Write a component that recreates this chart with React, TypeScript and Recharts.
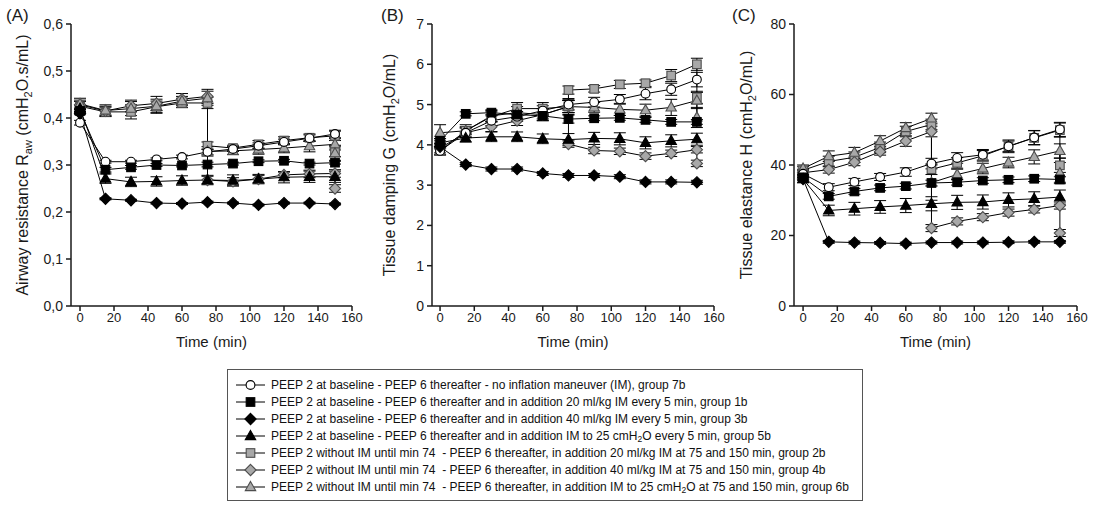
import React from "react";
import { ErrorBar, Line, LineChart, XAxis, YAxis } from "recharts";

// Sampling times (min). Groups 2b/4b/6b have two readings at 75 and 150 (before / after IM).
const TIME = [0, 15, 30, 45, 60, 75, 90, 105, 120, 135, 150];
const TIME_IM = [0, 15, 30, 45, 60, 75, 75, 90, 105, 120, 135, 150, 150];
const X_TICKS = [0, 20, 40, 60, 80, 100, 120, 140, 160];

// (A) Airway resistance Raw
const RAW_TICKS = [0, 0.1, 0.2, 0.3, 0.4, 0.5, 0.6];
const RAW_7B = [0.39, 0.307, 0.307, 0.312, 0.317, 0.328, 0.334, 0.341, 0.349, 0.357, 0.366];
const RAW_1B = [0.415, 0.29, 0.295, 0.3, 0.299, 0.301, 0.303, 0.308, 0.309, 0.303, 0.305];
const RAW_3B = [0.41, 0.228, 0.225, 0.219, 0.218, 0.221, 0.219, 0.215, 0.219, 0.219, 0.217];
const RAW_5B = [0.42, 0.271, 0.264, 0.265, 0.267, 0.268, 0.267, 0.27, 0.274, 0.275, 0.275];
const RAW_2B = [0.425, 0.413, 0.413, 0.424, 0.432, 0.432, 0.341, 0.336, 0.344, 0.352, 0.358, 0.362, 0.33];
const RAW_4B = [0.428, 0.415, 0.426, 0.431, 0.44, 0.446, 0.268, 0.265, 0.27, 0.279, 0.281, 0.282, 0.25];
const RAW_6B = [0.43, 0.416, 0.42, 0.425, 0.436, 0.442, 0.329, 0.33, 0.333, 0.336, 0.34, 0.344, 0.325];
const RAW_7B_SEM = [0.005, 0.003, 0.003, 0.003, 0.004, 0.006, 0.005, 0.006, 0.006, 0.007, 0.008];
const RAW_1B_SEM = [0.005, 0.005, 0.004, 0.003, 0.003, 0.005, 0.003, 0.003, 0.003, 0.003, 0.003];
const RAW_3B_SEM = [0.003, 0.002, 0.002, 0.002, 0.002, 0.002, 0.002, 0.002, 0.002, 0.002, 0.002];
const RAW_5B_SEM = [0.006, 0.01, 0.01, 0.01, 0.01, 0.01, 0.012, 0.01, 0.012, 0.012, 0.012];
const RAW_2B_SEM = [0.01, 0.01, 0.015, 0.012, 0.01, 0.012, 0.008, 0.006, 0.008, 0.008, 0.008, 0.01, 0.012];
const RAW_4B_SEM = [0.01, 0.01, 0.012, 0.015, 0.012, 0.015, 0.008, 0.008, 0.008, 0.006, 0.008, 0.008, 0.008];
const RAW_6B_SEM = [0.012, 0.012, 0.015, 0.015, 0.01, 0.015, 0.01, 0.008, 0.01, 0.01, 0.012, 0.012, 0.015];

// (B) Tissue damping G
const G_TICKS = [0, 1, 2, 3, 4, 5, 6, 7];
const G_7B = [3.85, 4.3, 4.6, 4.7, 4.85, 5.0, 5.06, 5.13, 5.27, 5.38, 5.62];
const G_1B = [4.1, 4.77, 4.8, 4.75, 4.72, 4.64, 4.66, 4.67, 4.62, 4.57, 4.57];
const G_3B = [3.95, 3.51, 3.4, 3.4, 3.29, 3.24, 3.24, 3.21, 3.08, 3.08, 3.07];
const G_5B = [4.05, 4.17, 4.2, 4.2, 4.15, 4.13, 4.16, 4.15, 4.05, 4.1, 4.14];
const G_2B = [3.85, 4.35, 4.7, 4.9, 4.9, 4.95, 5.36, 5.39, 5.5, 5.53, 5.72, 6.0, 5.18];
const G_4B = [3.92, 4.3, 4.45, 4.6, 4.75, 4.95, 4.02, 3.86, 3.84, 3.72, 3.79, 3.88, 3.54];
const G_6B = [4.3, 4.35, 4.72, 4.8, 4.75, 4.95, 4.95, 4.93, 4.88, 4.86, 4.93, 5.1, 4.68];
const G_7B_SEM = [0.1, 0.12, 0.12, 0.12, 0.12, 0.12, 0.12, 0.12, 0.15, 0.15, 0.18];
const G_1B_SEM = [0.06, 0.05, 0.05, 0.08, 0.08, 0.1, 0.06, 0.06, 0.06, 0.06, 0.06];
const G_3B_SEM = [0.05, 0.05, 0.05, 0.05, 0.05, 0.05, 0.05, 0.05, 0.05, 0.05, 0.05];
const G_5B_SEM = [0.1, 0.1, 0.12, 0.12, 0.12, 0.15, 0.15, 0.15, 0.15, 0.15, 0.15];
const G_2B_SEM = [0.1, 0.1, 0.12, 0.15, 0.15, 0.15, 0.1, 0.08, 0.1, 0.08, 0.15, 0.15, 0.15];
const G_4B_SEM = [0.12, 0.12, 0.12, 0.12, 0.15, 0.15, 0.08, 0.08, 0.08, 0.08, 0.08, 0.08, 0.08];
const G_6B_SEM = [0.2, 0.15, 0.15, 0.15, 0.15, 0.2, 0.15, 0.12, 0.15, 0.15, 0.2, 0.2, 0.25];

// (C) Tissue elastance H
const H_TICKS = [0, 20, 40, 60, 80];
const H_7B = [37.5, 33.7, 35.2, 36.6, 38.0, 40.4, 42.0, 42.9, 45.3, 47.8, 50.1];
const H_1B = [36.5, 31.1, 32.5, 33.5, 34.0, 34.9, 35.1, 35.6, 35.8, 36.1, 35.9];
const H_3B = [36, 18.2, 18, 17.9, 17.7, 18, 18, 18, 18.1, 18.2, 18.2];
const H_5B = [36, 27.1, 27.6, 28.1, 28.5, 29.0, 29.4, 29.5, 30.1, 30.4, 30.9];
const H_2B = [38.5, 41.0, 42.2, 45.0, 49.5, 51.5, 38.8, 40.6, 42.6, 45.3, 47.7, 49.9, 39.9];
const H_4B = [37.8, 38.7, 40.8, 43.8, 46.8, 49.5, 22.1, 24.0, 25.2, 26.5, 27.4, 28.5, 20.7];
const H_6B = [39, 42.5, 43.5, 46.8, 50.5, 53.2, 35.0, 37.3, 39.0, 40.7, 42.3, 44.0, 37.7];
const H_7B_SEM = [1, 1, 1, 1, 1.2, 1.5, 1.5, 1.5, 1.8, 2, 2];
const H_1B_SEM = [0.8, 0.8, 0.8, 0.8, 0.8, 0.8, 0.8, 0.8, 0.8, 0.8, 0.8];
const H_3B_SEM = [0.5, 0.4, 0.4, 0.4, 0.4, 0.4, 0.4, 0.4, 0.4, 0.4, 0.4];
const H_5B_SEM = [1, 1.5, 1.8, 1.8, 2, 2, 2, 2, 2, 2, 2];
const H_2B_SEM = [1, 1.5, 1.5, 1.5, 1.5, 1.5, 1.5, 1.5, 1.5, 1.5, 2, 2, 2];
const H_4B_SEM = [1, 1, 1, 1, 1.5, 1.5, 1, 1, 1, 1, 1, 1, 1];
const H_6B_SEM = [1, 1.5, 1.5, 1.5, 1.5, 1.5, 5, 1.5, 1.5, 1.5, 2, 2, 3];

const INK = "#1a1a1a";
const GREY = "#a8a8a8";
const GREY_EDGE = "#4d4d4d";
const FONT = '"Liberation Sans", Arial, sans-serif';

type Shape = "circle" | "square" | "diamond" | "triangle";

interface Group {
  id: string;
  shape: Shape;
  fill: string;
  edge: string;
  late: boolean; // IM only at 75 and 150 min
  legend: (string | { sub: string })[];
}

const GROUPS: Group[] = [
  { id: "7b", shape: "circle", fill: "#ffffff", edge: "#000", late: false,
    legend: ["PEEP 2 at baseline - PEEP 6 thereafter - no inflation maneuver (IM), group 7b"] },
  { id: "1b", shape: "square", fill: "#000", edge: "#000", late: false,
    legend: ["PEEP 2 at baseline - PEEP 6 thereafter and in addition 20 ml/kg IM every 5 min, group 1b"] },
  { id: "3b", shape: "diamond", fill: "#000", edge: "#000", late: false,
    legend: ["PEEP 2 at baseline - PEEP 6 thereafter and in addition 40 ml/kg IM every 5 min, group 3b"] },
  { id: "5b", shape: "triangle", fill: "#000", edge: "#000", late: false,
    legend: ["PEEP 2 at baseline - PEEP 6 thereafter and in addition IM to 25 cmH", { sub: "2" }, "O every 5 min, group 5b"] },
  { id: "2b", shape: "square", fill: GREY, edge: GREY_EDGE, late: true,
    legend: ["PEEP 2 without IM until min 74  - PEEP 6 thereafter, in addition 20 ml/kg IM at 75 and 150 min, group 2b"] },
  { id: "4b", shape: "diamond", fill: GREY, edge: GREY_EDGE, late: true,
    legend: ["PEEP 2 without IM until min 74  - PEEP 6 thereafter, in addition 40 ml/kg IM at 75 and 150 min, group 4b"] },
  { id: "6b", shape: "triangle", fill: GREY, edge: GREY_EDGE, late: true,
    legend: ["PEEP 2 without IM until min 74  - PEEP 6 thereafter, in addition IM to 25 cmH", { sub: "2" }, "O at 75 and 150 min, group 6b"] },
];

// draw grey groups first so the black ones sit on top
const DRAW_ORDER = ["2b", "4b", "6b", "7b", "1b", "5b", "3b"];

interface Panel {
  letter: string;
  left: number;
  width: number;
  marginRight: number;
  xMin: number;
  yTicks: number[];
  decimals: number;
  titleX: number;
  letterX: number;
  title: (string | { sub: string })[];
  values: Record<string, number[]>;
  sems: Record<string, number[]>;
}

const PANELS: Panel[] = [
  {
    letter: "(A)", left: 0, width: 370, marginRight: 18, xMin: -5.3, yTicks: RAW_TICKS, decimals: 1,
    titleX: 28, letterX: 6,
    title: ["Airway resistance R", { sub: "aw" }, " (cmH", { sub: "2" }, "O.s/mL)"],
    values: { "7b": RAW_7B, "1b": RAW_1B, "3b": RAW_3B, "5b": RAW_5B, "2b": RAW_2B, "4b": RAW_4B, "6b": RAW_6B },
    sems: { "7b": RAW_7B_SEM, "1b": RAW_1B_SEM, "3b": RAW_3B_SEM, "5b": RAW_5B_SEM, "2b": RAW_2B_SEM, "4b": RAW_4B_SEM, "6b": RAW_6B_SEM },
  },
  {
    letter: "(B)", left: 361, width: 371, marginRight: 18, xMin: -4.7, yTicks: G_TICKS, decimals: 0,
    titleX: 34, letterX: 20,
    title: ["Tissue damping G (cmH", { sub: "2" }, "O/mL)"],
    values: { "7b": G_7B, "1b": G_1B, "3b": G_3B, "5b": G_5B, "2b": G_2B, "4b": G_4B, "6b": G_6B },
    sems: { "7b": G_7B_SEM, "1b": G_1B_SEM, "3b": G_3B_SEM, "5b": G_5B_SEM, "2b": G_2B_SEM, "4b": G_4B_SEM, "6b": G_6B_SEM },
  },
  {
    letter: "(C)", left: 723, width: 371, marginRight: 17, xMin: -5.3, yTicks: H_TICKS, decimals: 0,
    titleX: 29, letterX: 9,
    title: ["Tissue elastance H (cmH", { sub: "2" }, "O/mL)"],
    values: { "7b": H_7B, "1b": H_1B, "3b": H_3B, "5b": H_5B, "2b": H_2B, "4b": H_4B, "6b": H_6B },
    sems: { "7b": H_7B_SEM, "1b": H_1B_SEM, "3b": H_3B_SEM, "5b": H_5B_SEM, "2b": H_2B_SEM, "4b": H_4B_SEM, "6b": H_6B_SEM },
  },
];

const CHART_HEIGHT = 360;
const PLOT_TOP = 24;
const X_AXIS_HEIGHT = 30;
const PLOT_BOTTOM = 306;

interface MarkerProps {
  shape: Shape;
  cx: number;
  cy: number;
  fill: string;
  edge: string;
}

function Marker({ shape, cx, cy, fill, edge }: MarkerProps) {
  const sw = 1.1;
  if (shape === "circle") {
    return <circle cx={cx} cy={cy} r={4.4} fill={fill} stroke={edge} strokeWidth={sw} />;
  }
  if (shape === "square") {
    return <rect x={cx - 4.3} y={cy - 4.3} width={8.6} height={8.6} fill={fill} stroke={edge} strokeWidth={sw} />;
  }
  if (shape === "diamond") {
    const r = 5.6;
    return (
      <polygon
        points={`${cx},${cy - r} ${cx + r},${cy} ${cx},${cy + r} ${cx - r},${cy}`}
        fill={fill}
        stroke={edge}
        strokeWidth={sw}
      />
    );
  }
  return (
    <polygon
      points={`${cx},${cy - 5.6} ${cx + 5.2},${cy + 3.6} ${cx - 5.2},${cy + 3.6}`}
      fill={fill}
      stroke={edge}
      strokeWidth={sw}
    />
  );
}

function Segments({ parts, subSize, shift }: { parts: (string | { sub: string })[]; subSize: number; shift: number }) {
  let lowered = false;
  return (
    <>
      {parts.map((p, i) => {
        if (typeof p === "string") {
          const dy = lowered ? -shift : 0;
          lowered = false;
          return <tspan key={i} dy={dy}>{p}</tspan>;
        }
        lowered = true;
        return <tspan key={i} dy={shift} fontSize={subSize}>{p.sub}</tspan>;
      })}
    </>
  );
}

function YTitle({ panel }: { panel: Panel; viewBox?: unknown }) {
  const cy = (PLOT_TOP + PLOT_BOTTOM) / 2;
  return (
    <text
      transform={`translate(${panel.titleX},${cy}) rotate(-90)`}
      textAnchor="middle"
      fontSize={16}
      fill={INK}
      fontFamily={FONT}
    >
      <Segments parts={panel.title} subSize={11} shift={4} />
    </text>
  );
}

function XTitle({ panel }: { panel: Panel; viewBox?: unknown }) {
  const plotLeft = 71;
  const plotRight = panel.width - panel.marginRight;
  return (
    <text x={(plotLeft + plotRight) / 2} y={347} textAnchor="middle" fontSize={15} fill={INK} fontFamily={FONT}>
      Time (min)
    </text>
  );
}

function PanelChart({ panel }: { panel: Panel }) {
  const yMax = panel.yTicks[panel.yTicks.length - 1];
  const axisStyle = { stroke: INK, strokeWidth: 1.5 };
  return (
    <div style={{ position: "absolute", left: panel.left, top: 0 }}>
      <LineChart
        width={panel.width}
        height={CHART_HEIGHT}
        margin={{ top: PLOT_TOP, right: panel.marginRight, bottom: CHART_HEIGHT - PLOT_BOTTOM - X_AXIS_HEIGHT, left: 0 }}
      >
        <XAxis
          type="number"
          dataKey="t"
          domain={[panel.xMin, 160]}
          ticks={X_TICKS}
          interval={0}
          allowDataOverflow
          height={X_AXIS_HEIGHT}
          tickSize={5}
          tickMargin={2}
          axisLine={axisStyle}
          tickLine={axisStyle}
          tick={{ fill: INK, fontSize: 13, fontFamily: FONT }}
          label={<XTitle panel={panel} />}
        />
        <YAxis
          type="number"
          domain={[0, yMax]}
          ticks={panel.yTicks}
          interval={0}
          width={71}
          tickSize={5}
          tickMargin={3}
          axisLine={axisStyle}
          tickLine={axisStyle}
          tick={{ fill: INK, fontSize: 14, fontFamily: FONT }}
          tickFormatter={(v: number) => v.toFixed(panel.decimals).replace(".", ",")}
          label={<YTitle panel={panel} />}
        />
        {DRAW_ORDER.map((id) => {
          const g = GROUPS.find((x) => x.id === id)!;
          const times = g.late ? TIME_IM : TIME;
          const vals = panel.values[id];
          const sems = panel.sems[id];
          const data = times.map((t, i) => ({ t, v: vals[i], e: sems[i] }));
          return (
            <Line
              key={id}
              data={data}
              dataKey="v"
              type="linear"
              stroke="#000"
              strokeWidth={1}
              isAnimationActive={false}
              activeDot={false}
              dot={(p: { cx?: number; cy?: number; index: number }) =>
                p.cx == null || p.cy == null ? (
                  <g key={p.index} />
                ) : (
                  <Marker key={p.index} shape={g.shape} cx={p.cx} cy={p.cy} fill={g.fill} edge={g.edge} />
                )
              }
            >
              <ErrorBar dataKey="e" direction="y" width={6} stroke="#000" strokeWidth={1} />
            </Line>
          );
        })}
      </LineChart>
      <div
        style={{
          position: "absolute",
          left: panel.letterX,
          top: 6,
          fontSize: 17,
          fontFamily: FONT,
          color: INK,
          lineHeight: "20px",
        }}
      >
        {panel.letter}
      </div>
    </div>
  );
}

function LegendText({ parts }: { parts: (string | { sub: string })[] }) {
  return (
    <span style={{ marginLeft: 5, whiteSpace: "pre" }}>
      {parts.map((p, i) =>
        typeof p === "string" ? (
          <span key={i}>{p}</span>
        ) : (
          <sub key={i} style={{ fontSize: 8.5, verticalAlign: "-2px", lineHeight: 0 }}>
            {p.sub}
          </sub>
        )
      )}
    </span>
  );
}

function GroupLegend() {
  return (
    <div
      style={{
        position: "absolute",
        left: 227,
        top: 369,
        width: 636,
        height: 132,
        boxSizing: "border-box",
        border: "1px solid #555",
        padding: "6px 0 0 8px",
        fontFamily: FONT,
        fontSize: 12,
        color: "#111",
      }}
    >
      {GROUPS.map((g) => (
        <div key={g.id} style={{ height: 17, display: "flex", alignItems: "center" }}>
          <svg width={30} height={14} style={{ flex: "none" }}>
            <line x1={0} x2={29} y1={7} y2={7} stroke="#000" strokeWidth={1} />
            <Marker shape={g.shape} cx={14.5} cy={7} fill={g.fill} edge={g.edge} />
          </svg>
          <LegendText parts={g.legend} />
        </div>
      ))}
    </div>
  );
}

export default function App() {
  return (
    <div
      style={{
        position: "absolute",
        left: 0,
        top: 0,
        width: 1094,
        height: 506,
        background: "#fff",
        overflow: "hidden",
        fontFamily: FONT,
      }}
    >
      {PANELS.map((p) => (
        <PanelChart key={p.letter} panel={p} />
      ))}
      <GroupLegend />
    </div>
  );
}
